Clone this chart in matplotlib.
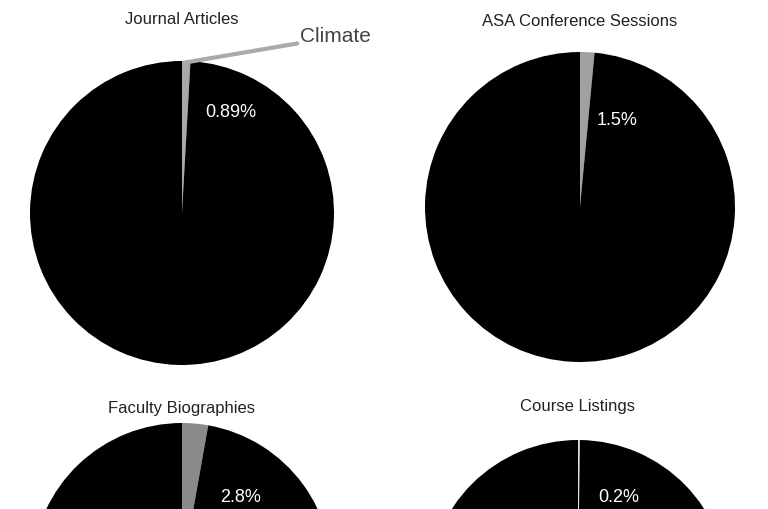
import matplotlib
matplotlib.use("Agg")
import matplotlib.pyplot as plt
plt.rcParams['font.family'] = ['Liberation Sans', 'DejaVu Sans']

titles = ["Journal Articles", "ASA Conference Sessions", "Faculty Biographies", "Course Listings"]
climate_pct = [0.89, 1.5, 2.8, 0.2]
pct_labels = ["0.89%", "1.5%", "2.8%", "0.2%"]
slice_colors = ["#a8a8a8", "#a0a0a0", "#8a8a8a", "#e0e0e0"]

W, H = 768, 509
fig = plt.figure(figsize=(W/100, H/100), dpi=100)
fig.patch.set_facecolor("white")

geoms = [(182, 213, 152), (580, 207, 155), (182, 573, 150), (578, 590, 150)]
label_pos = [(0.32, 0.66), (0.24, 0.56), (0.39, 0.50), (0.27, 0.62)]
title_y = [20, 22, 408, 407]

for i in range(4):
    cx, cy, r = geoms[i]
    ax = fig.add_axes([(cx-r)/W, (H-(cy+r))/H, 2*r/W, 2*r/H])
    v = climate_pct[i]
    ax.pie([v, 100-v], colors=[slice_colors[i], "black"], startangle=90,
           counterclock=False, radius=1, wedgeprops=dict(linewidth=0))
    ax.set_xlim(-1, 1); ax.set_ylim(-1, 1)
    ax.set_aspect("equal"); ax.axis("off")
    lx, ly = label_pos[i]
    ax.text(lx, ly, pct_labels[i], color="white", fontsize=13, ha="center", va="center")
    fig.text(cx/W, 1-title_y[i]/H, titles[i], fontsize=12, ha="center", va="center", color="#222222")
    if i == 0:
        ax.annotate("Climate", xy=(0.02, 0.99), xycoords="data",
                    xytext=(300/W, 1-37/H), textcoords="figure fraction",
                    fontsize=15, color="#444444", va="center", ha="left",
                    arrowprops=dict(arrowstyle="-", color="#aaaaaa", lw=3,
                                    shrinkA=0, shrinkB=0), annotation_clip=False)

fig.savefig("out.png", dpi=100)
